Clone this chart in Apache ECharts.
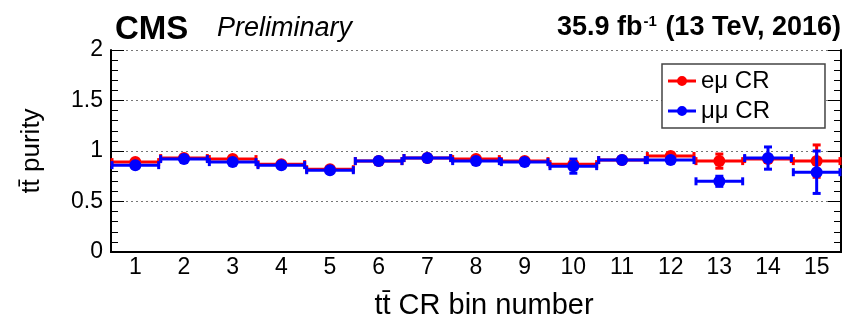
<!DOCTYPE html>
<html>
<head>
<meta charset="utf-8">
<script src="https://cdn.jsdelivr.net/npm/echarts@6/dist/echarts.min.js"></script>
<style>
  html, body { margin: 0; padding: 0; background: #fff; }
  #chart { width: 849px; height: 326px; }
</style>
</head>
<body>
<div id="chart"></div>
<script>
// ttbar control-region bins
const binLabels = ['1', '2', '3', '4', '5', '6', '7', '8', '9', '10', '11', '12', '13', '14', '15'];

// e-mu control region: purity and its uncertainty per bin
const emuPurity = [0.89, 0.93, 0.92, 0.87, 0.82, 0.90, 0.93, 0.92, 0.90, 0.87, 0.91, 0.95, 0.90, 0.92, 0.90];
const emuError  = [0.01, 0.01, 0.01, 0.01, 0.01, 0.01, 0.01, 0.01, 0.01, 0.02, 0.01, 0.03, 0.07, 0.03, 0.16];

// mu-mu control region: purity and its uncertainty per bin
const mumuPurity = [0.86, 0.92, 0.89, 0.86, 0.81, 0.90, 0.93, 0.90, 0.89, 0.85, 0.91, 0.91, 0.70, 0.93, 0.79];
const mumuError  = [0.01, 0.01, 0.01, 0.01, 0.01, 0.01, 0.01, 0.01, 0.01, 0.07, 0.01, 0.01, 0.05, 0.11, 0.21];

// y axis tick labels
const yTickLabels = ['0', '0.5', '1', '1.5', '2'];

const FONT = '"Liberation Sans", Arial, Helvetica, sans-serif';
const RED = '#ff0000';
const BLUE = '#0000ff';
const CAP = 4;

// horizontal bar spanning the bin plus vertical error bar, both with end caps
function errorBars(color) {
  return function (params, api) {
    const idx = api.value(0);
    const v = api.value(1);
    const e = api.value(2);
    const p = api.coord([idx, v]);
    const w = api.size([1, 0])[0];
    const top = api.coord([idx, v + e]);
    const bot = api.coord([idx, v - e]);
    const x0 = p[0] - w / 2, x1 = p[0] + w / 2;
    const style = { stroke: color, lineWidth: 3 };
    const line = (a, b, c, d) => ({ type: 'line', shape: { x1: a, y1: b, x2: c, y2: d }, style });
    return {
      type: 'group',
      children: [
        line(x0, p[1], x1, p[1]),
        line(x0 + 1, p[1] - CAP, x0 + 1, p[1] + CAP),
        line(x1 - 1, p[1] - CAP, x1 - 1, p[1] + CAP),
        line(p[0], top[1], p[0], bot[1]),
        line(p[0] - CAP, top[1], p[0] + CAP, top[1]),
        line(p[0] - CAP, bot[1], p[0] + CAP, bot[1])
      ]
    };
  };
}

const withErr = (vals, errs) => vals.map((v, i) => [i, v, errs[i]]);
const points = (vals) => vals.map((v, i) => [i, v]);

const legendIcon = 'path://M0,3.5H28V6.5H0Z M14,0A5,5,0,1,1,14,10A5,5,0,1,1,14,0Z';

const axisLineStyle = { lineStyle: { color: '#000', width: 2 } };

const chart = echarts.init(document.getElementById('chart'), null, { renderer: 'canvas' });
chart.setOption({
  animation: false,
  backgroundColor: '#fff',
  textStyle: { fontFamily: FONT },
  title: [
    { text: 'CMS', left: 110, top: 8,
      textStyle: { fontFamily: FONT, fontSize: 33, fontWeight: 'bold', color: '#000' } },
    { text: 'Preliminary', left: 212, top: 10,
      textStyle: { fontFamily: FONT, fontSize: 27, fontStyle: 'italic', fontWeight: 'normal', color: '#000' } },
    { text: '{a|35.9 fb}{s|-1}{a| (13 TeV, 2016)}', right: 3, top: 9,
      textStyle: {
        rich: {
          a: { fontFamily: FONT, fontSize: 27, fontWeight: 'bold', color: '#000' },
          s: { fontFamily: FONT, fontSize: 15, fontWeight: 'bold', color: '#000', verticalAlign: 'top', padding: [0, 1, 9, 1] }
        }
      } }
  ],
  legend: {
    orient: 'vertical',
    left: 662, top: 64,
    padding: [5, 55, 5, 6],
    itemGap: 6,
    itemWidth: 28, itemHeight: 10,
    backgroundColor: '#fff',
    borderColor: '#444', borderWidth: 1.5,
    textStyle: { fontFamily: FONT, fontSize: 24, color: '#000' },
    data: [
      { name: 'eμ CR', icon: legendIcon, itemStyle: { color: RED } },
      { name: 'μμ CR', icon: legendIcon, itemStyle: { color: BLUE } }
    ]
  },
  grid: { left: 111, right: 8, top: 50, bottom: 74, containLabel: false },
  xAxis: [
    {
      type: 'category', data: binLabels, position: 'bottom', boundaryGap: true,
      axisLine: axisLineStyle,
      axisTick: { inside: true, length: 7, interval: 0, lineStyle: { color: '#000', width: 1 } },
      axisLabel: { fontFamily: FONT, fontSize: 23, color: '#000', margin: 4, interval: 0 },
      name: 'tt\u0304 CR bin number', nameLocation: 'middle', nameGap: 39,
      nameTextStyle: { fontFamily: FONT, fontSize: 29, color: '#000', padding: [0, 0, 0, 16] },
      splitLine: { show: false }
    },
    {
      type: 'category', data: binLabels, position: 'top', boundaryGap: true,
      axisLine: axisLineStyle,
      axisTick: { inside: true, length: 7, interval: 0, lineStyle: { color: '#000', width: 1 } },
      axisLabel: { show: false },
      splitLine: { show: false }
    }
  ],
  yAxis: [
    {
      type: 'value', min: 0, max: 2, interval: 0.5, position: 'left',
      axisLine: { show: true, lineStyle: { color: '#000', width: 2 } },
      axisTick: { show: true, inside: true, length: 13, lineStyle: { color: '#000', width: 1 } },
      minorTick: { show: true, splitNumber: 5, length: 7, lineStyle: { color: '#000', width: 1 } },
      axisLabel: { fontFamily: FONT, fontSize: 23, color: '#000', margin: 8,
        formatter: (v) => yTickLabels[Math.round(v / 0.5)] },
      splitLine: { show: true, lineStyle: { color: '#777', width: 1, type: [2, 3] } },
      name: 'tt\u0304 purity', nameLocation: 'middle', nameGap: 66, nameRotate: 90,
      nameTextStyle: { fontFamily: FONT, fontSize: 26, color: '#000' }
    },
    {
      type: 'value', min: 0, max: 2, interval: 0.5, position: 'right',
      axisLine: { show: true, lineStyle: { color: '#000', width: 2 } },
      axisTick: { show: true, inside: true, length: 13, lineStyle: { color: '#000', width: 1 } },
      minorTick: { show: true, splitNumber: 5, length: 7, lineStyle: { color: '#000', width: 1 } },
      axisLabel: { show: false },
      splitLine: { show: false }
    }
  ],
  series: [
    {
      name: 'eμ CR', type: 'custom', xAxisIndex: 0, yAxisIndex: 0, z: 2,
      itemStyle: { color: RED },
      renderItem: errorBars(RED), encode: { x: 0, y: 1 },
      data: withErr(emuPurity, emuError)
    },
    {
      name: 'eμ CR', type: 'scatter', xAxisIndex: 0, yAxisIndex: 0, z: 3,
      symbol: 'circle', symbolSize: 12, itemStyle: { color: RED, opacity: 1 },
      data: points(emuPurity)
    },
    {
      name: 'μμ CR', type: 'custom', xAxisIndex: 0, yAxisIndex: 0, z: 4,
      itemStyle: { color: BLUE },
      renderItem: errorBars(BLUE), encode: { x: 0, y: 1 },
      data: withErr(mumuPurity, mumuError)
    },
    {
      name: 'μμ CR', type: 'scatter', xAxisIndex: 0, yAxisIndex: 0, z: 5,
      symbol: 'circle', symbolSize: 12, itemStyle: { color: BLUE, opacity: 1 },
      data: points(mumuPurity)
    }
  ]
});
</script>
</body>
</html>
